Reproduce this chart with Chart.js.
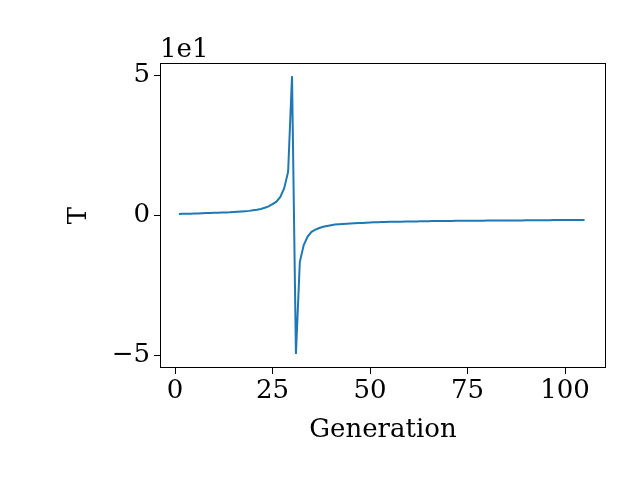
<!DOCTYPE html>
<html><head><meta charset="utf-8">
<script src="https://cdn.jsdelivr.net/npm/chart.js@4"></script>
<style>html,body{margin:0;padding:0;background:#fff}</style>
</head><body>
<div style="width:640px;height:480px"><canvas id="c" width="640" height="480"></canvas></div>
<script>
const generations = Array.from({length:105},(_,i)=>i+1);
const tValues = [
 0.04,0.045,0.05,0.05,0.055,0.06,0.065,0.07,0.075,0.08,
 0.085,0.09,0.095,0.10,0.11,0.12,0.13,0.14,0.15,0.17,
 0.19,0.22,0.26,0.31,0.39,0.48,0.65,0.96,1.55,4.96,
 -4.96,-1.67,-1.07,-0.77,-0.60,-0.52,-0.46,-0.42,-0.39,-0.36,
 -0.34,-0.33,-0.32,-0.31,-0.30,-0.29,-0.285,-0.28,-0.27,-0.265,
 -0.26,-0.255,-0.25,-0.245,-0.24,-0.24,-0.235,-0.235,-0.23,-0.23,
 -0.225,-0.225,-0.22,-0.22,-0.22,-0.215,-0.215,-0.215,-0.21,-0.21,
 -0.21,-0.205,-0.205,-0.205,-0.2,-0.2,-0.2,-0.2,-0.2,-0.195,
 -0.195,-0.195,-0.195,-0.19,-0.19,-0.19,-0.19,-0.19,-0.19,-0.185,
 -0.185,-0.185,-0.185,-0.185,-0.185,-0.185,-0.18,-0.18,-0.18,-0.18,
 -0.18,-0.18,-0.18,-0.18,-0.18];
const xTicks = [0,25,50,75,100];
const yTicks = [-5,0,5];
const scaleLabel = '1e1';
const F = '"DejaVu Serif", serif';
const textPlugin = {id:'txt', afterDraw(c){
  const ctx=c.ctx, a=c.chartArea; ctx.save();
  ctx.strokeStyle='#000'; ctx.lineWidth=1;
  ctx.strokeRect(a.left+0.5,a.top+0.5,a.right-a.left-1,a.bottom-a.top-1);
  ctx.fillStyle='#000'; ctx.font='26px '+F;
  ctx.textAlign='left'; ctx.textBaseline='alphabetic';
  ctx.fillText(scaleLabel, a.left, 57);
  ctx.textAlign='center'; ctx.fillText('Generation', (a.left+a.right)/2, 437);
  ctx.translate(86,(a.top+a.bottom)/2); ctx.rotate(-Math.PI/2);
  ctx.fillText('T',0,0);
  ctx.restore();
}};
new Chart(document.getElementById('c'),{
  type:'scatter',
  data:{datasets:[{data:generations.map((g,i)=>({x:g,y:tValues[i]})),showLine:true,
    borderColor:'#1f77b4',borderWidth:2,pointRadius:0,tension:0}]},
  options:{responsive:false,animation:false,
    layout:{padding:{top:63,right:34,left:0,bottom:0}},
    plugins:{legend:{display:false},tooltip:{enabled:false}},
    scales:{
      x:{min:-3.85,max:110.5,
        afterBuildTicks(s){s.ticks=xTicks.map(v=>({value:v}));},
        afterFit(s){s.height=112;},
        grid:{drawOnChartArea:false,tickLength:6,color:'#000'},border:{display:false},
        ticks:{color:'#000',font:{family:F,size:26},padding:2,maxRotation:0}},
      y:{min:-5.46,max:5.43,
        afterBuildTicks(s){s.ticks=yTicks.map(v=>({value:v}));},
        afterFit(s){s.width=160;},
        grid:{drawOnChartArea:false,tickLength:6,color:'#000'},border:{display:false},
        ticks:{color:'#000',font:{family:F,size:26},padding:4,
          callback:v=>v<0?'\u2212'+Math.abs(v):String(v)}}
    }},
  plugins:[textPlugin]
});
</script></body></html>
